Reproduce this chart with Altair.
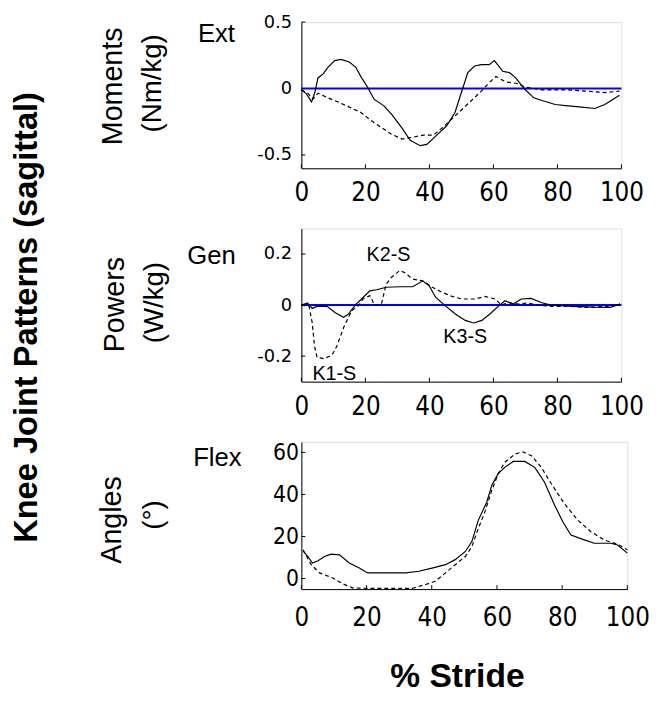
import altair as alt
import pandas as pd

stride_ticks = [0, 20, 40, 60, 80, 100]

# ---- Moments (Nm/kg) ----
mom_solid_x = [0, 1.6, 3.2, 4.2, 5.2, 6.8, 8.3, 10.4, 12.4, 15, 17, 18.6, 20.7, 22.7,
               25.8, 28.4, 31.5, 34, 37.1, 39.2, 42.3, 45.4, 48, 50, 52, 54.1, 56.2,
               58.7, 60.3, 61.3, 62.9, 65, 67, 69.6, 72.6, 75.2, 79.3, 83.4, 87.6,
               91.7, 94.8, 96.8, 99.4]
mom_solid_y = [-0.01, -0.04, -0.10, -0.03, 0.08, 0.11, 0.16, 0.21, 0.22, 0.20, 0.16,
               0.09, 0.01, -0.08, -0.13, -0.20, -0.30, -0.39, -0.43, -0.42, -0.35,
               -0.28, -0.18, -0.03, 0.12, 0.17, 0.18, 0.18, 0.21, 0.18, 0.13, 0.12,
               0.08, 0.0, -0.07, -0.09, -0.12, -0.13, -0.14, -0.15, -0.12, -0.09, -0.05]
mom_dash_x = [0, 2.2, 3.6, 5.2, 8.3, 11.4, 15, 18.6, 21.7, 24.8, 27.9, 31.5, 35.1,
              38.2, 41.3, 44.3, 47.4, 50.5, 53.6, 56.2, 58.7, 60.8, 63.9, 67, 70.1,
              75.2, 83.4, 89.6, 94.8, 99.4]
mom_dash_y = [-0.01, -0.04, -0.08, -0.035, -0.07, -0.10, -0.14, -0.18, -0.24, -0.29,
              -0.34, -0.38, -0.365, -0.35, -0.35, -0.29, -0.22, -0.15, -0.08, -0.02,
              0.045, 0.09, 0.05, 0.04, 0.01, -0.01, -0.01, -0.02, -0.03, -0.02]
mom_ticks = [-0.5, 0, 0.5]

# ---- Powers (W/kg) ----
pow_solid_x = [0, 1.9, 3.4, 4.9, 8, 10.6, 13.2, 14.7, 16.8, 18.8, 21.4, 23.5, 26.5,
               30.7, 34.8, 37.9, 39.9, 42, 45, 48.1, 51.2, 53.8, 56.4, 58.9, 61.5,
               63.6, 66.2, 68.7, 71.8, 74.9, 78, 85.2, 91.4, 96.5, 99.6]
pow_solid_y = [0, 0.008, -0.013, -0.005, -0.005, -0.03, -0.048, -0.035, 0, 0.024,
               0.056, 0.06, 0.07, 0.072, 0.072, 0.095, 0.076, 0.03, -0.003, -0.035,
               -0.06, -0.07, -0.06, -0.035, -0.005, 0.017, 0.004, 0.024, 0.026, 0.01,
               0, -0.005, -0.008, -0.009, 0.004]
pow_dash_x = [0, 2.4, 3.4, 4.1, 4.9, 7, 9.6, 11.1, 13.2, 15.7, 17.8, 19.3, 21.4, 22.9,
              25, 26.5, 28.1, 30.7, 32.2, 34.8, 37.9, 40.9, 44, 47.1, 50.2, 54.3,
              57.4, 60.5, 62.5, 64.6, 67.7, 70.7, 73.8, 78, 83.1, 90.3, 95.5, 99.6]
pow_dash_y = [0, -0.005, -0.07, -0.16, -0.205, -0.21, -0.196, -0.16, -0.088, -0.022,
              -0.003, 0.024, 0.037, 0, 0.004, 0.082, 0.108, 0.135, 0.128, 0.102,
              0.095, 0.07, 0.05, 0.034, 0.024, 0.024, 0.034, 0.024, 0, 0.01, 0.004,
              0.008, 0, -0.005, -0.005, -0.009, -0.005, 0.004]
pow_ticks = [-0.2, 0, 0.2]
pow_notes = ["K1-S", "K2-S", "K3-S"]
pow_notes_x = [10.3, 27.2, 51.2]
pow_notes_y = [-0.27, 0.196, -0.127]

# ---- Angles (deg) ----
ang_solid_x = [0.5, 2, 3.4, 5.1, 7.1, 9.1, 11.7, 14.7, 17.8, 20.3, 25.9, 32, 36,
               40.1, 44.2, 47.2, 50.3, 52.3, 54.3, 56.9, 58.4, 60.4, 62.4, 65, 68.5,
               71.6, 74.6, 77.7, 80.2, 82.7, 86.8, 89.8, 94.9, 97, 100]
ang_solid_y = [13.2, 10.5, 7.4, 8.5, 10.5, 11.6, 11.3, 7.4, 5, 2.7, 2.7, 2.7, 3.5,
               5, 6.6, 9, 12.9, 17.6, 27.8, 36.4, 44.3, 50, 52.9, 55.7, 55.7, 52.9,
               45.8, 34.9, 27, 20.7, 18.4, 16.8, 16.8, 16, 12.1]
ang_dash_x = [0.5, 3, 5.6, 9.6, 12.7, 15.7, 20.8, 27.9, 34, 38.1, 41.1, 44.2, 47.2,
              50.3, 52.3, 54.3, 56.3, 58.4, 60.4, 62.4, 65.5, 68, 70.6, 73.6, 76.7,
              80.7, 84.8, 88.8, 92.9, 97, 100]
ang_dash_y = [13.7, 6.6, 2.7, 0.3, -2.5, -4.4, -4.7, -4.7, -4.7, -2.8, -1.3, 2.7,
              6.6, 10.5, 15.2, 23.9, 31.7, 41.9, 49.8, 55.3, 59.2, 60.3, 58.4, 52.9,
              45, 35.6, 27.8, 22.3, 18.4, 16.3, 13.7]
ang_ticks = [0, 20, 40, 60]

NARROW = "Liberation Sans Narrow, DejaVu Sans Condensed, Liberation Sans"
SANS = "Liberation Sans, Arial, sans-serif"
TICK = 4


def label(text, x, y, size, bold=False, angle=0, align="center"):
    kw = dict(font=SANS, fontSize=size, color="black", align=align,
              baseline="alphabetic")
    if bold:
        kw["fontWeight"] = "bold"
    if angle:
        kw["angle"] = angle
    return alt.Chart(pd.DataFrame({"t": [text]})).mark_text(**kw).encode(
        x=alt.value(x), y=alt.value(y), text="t:N")


def panel(sx, sy, dx, dy, yticks, ydomain, w, h, ylab_font, ylab_size, ylab_pad,
          xlab_pad, fmt, extra):
    xs = alt.Scale(domain=[0, 100], nice=False, zero=False)
    ys = alt.Scale(domain=ydomain, nice=False, zero=False)
    xaxis = alt.Axis(values=stride_ticks, title=None, grid=False, ticks=False,
                     domainColor="black", domainWidth=1, labelColor="black",
                     labelFont=NARROW, labelFontSize=26, labelPadding=xlab_pad,
                     labelFlush=False, labelOverlap=False)
    yaxis = alt.Axis(values=yticks, title=None, grid=False, ticks=False,
                     domainColor="black", domainWidth=1, labelColor="black",
                     labelFont=ylab_font, labelFontSize=ylab_size,
                     labelPadding=ylab_pad, labelFlush=False, labelOverlap=False,
                     labelExpr=fmt)
    solid = alt.Chart(pd.DataFrame({"x": sx, "y": sy})).mark_line(
        color="black", strokeWidth=1.2).encode(
        x=alt.X("x:Q", scale=xs, axis=xaxis), y=alt.Y("y:Q", scale=ys, axis=yaxis))
    dashed = alt.Chart(pd.DataFrame({"x": dx, "y": dy})).mark_line(
        color="black", strokeWidth=1.2, strokeDash=[4, 3]).encode(
        x=alt.X("x:Q", scale=xs), y=alt.Y("y:Q", scale=ys))
    xt = alt.Chart(pd.DataFrame({"v": stride_ticks})).mark_rule(
        color="black", strokeWidth=1).encode(
        x=alt.X("v:Q", scale=xs), y=alt.value(h), y2=alt.value(h - TICK))
    yt = alt.Chart(pd.DataFrame({"v": yticks})).mark_rule(
        color="black", strokeWidth=1).encode(
        y=alt.Y("v:Q", scale=ys), x=alt.value(0), x2=alt.value(TICK))
    layers = [xt, yt] + extra + [dashed, solid]
    return alt.layer(*layers).properties(width=w, height=h)


num_fmt = "datum.value == 0 ? '0' : (datum.value < 0 ? '-' : '') + format(abs(datum.value), '.1f')"
int_fmt = "datum.value == 0 ? '0' : (datum.value < 0 ? '-' : '') + format(abs(datum.value), 'd')"

zero1 = alt.Chart(pd.DataFrame({"z": [0]})).mark_rule(color="#0000ff", strokeWidth=2).encode(
    y=alt.Y("z:Q", scale=alt.Scale(domain=[-0.6, 0.5], nice=False, zero=False)))
zero2 = alt.Chart(pd.DataFrame({"z": [0]})).mark_rule(color="#0000ff", strokeWidth=2).encode(
    y=alt.Y("z:Q", scale=alt.Scale(domain=[-0.3, 0.3], nice=False, zero=False)))

notes = alt.Chart(pd.DataFrame({"x": pow_notes_x, "y": pow_notes_y, "t": pow_notes})).mark_text(
    font=SANS, fontSize=20, color="black", align="center", baseline="middle").encode(
    x=alt.X("x:Q", scale=alt.Scale(domain=[0, 100], nice=False, zero=False)),
    y=alt.Y("y:Q", scale=alt.Scale(domain=[-0.3, 0.3], nice=False, zero=False)),
    text="t:N")

p1 = panel(mom_solid_x, mom_solid_y, mom_dash_x, mom_dash_y, mom_ticks, [-0.6, 0.5],
           324, 148, "DejaVu Sans", 18, 10, 12, num_fmt,
           [zero1,
            label("Ext", -86, 20, 26),
            label("Moments", -182, 65, 29, angle=270),
            label("(Nm/kg)", -142, 62, 28, angle=270)])
p2 = panel(pow_solid_x, pow_solid_y, pow_dash_x, pow_dash_y, pow_ticks, [-0.3, 0.3],
           324, 155, "DejaVu Sans", 18, 10, 12, num_fmt,
           [zero2, notes,
            label("Gen", -91, 36, 26),
            label("Powers", -180, 77, 29, angle=270),
            label("(W/kg)", -140, 75, 28, angle=270),
            label("Knee Joint Patterns (sagittal)", -268, 90, 33, bold=True, angle=270)])
p3 = panel(ang_solid_x, ang_solid_y, ang_dash_x, ang_dash_y, ang_ticks, [-5, 65],
           330, 149, NARROW, 23, 3, 16, int_fmt,
           [label("Flex", -85, 24, 26),
            label("Angles", -183, 79, 29, angle=270),
            label("(°)", -141, 74, 28, angle=270),
            label("% Stride", 158, 248, 34, bold=True)])

chart = alt.vconcat(p1, p2, p3, spacing=61, bounds="flush").properties(
    padding={"left": 2, "top": 0, "right": 5, "bottom": 0}
).configure_view(stroke="transparent").configure(background="white")

chart.save("out.html", embed_options={"renderer": "svg", "actions": False})
